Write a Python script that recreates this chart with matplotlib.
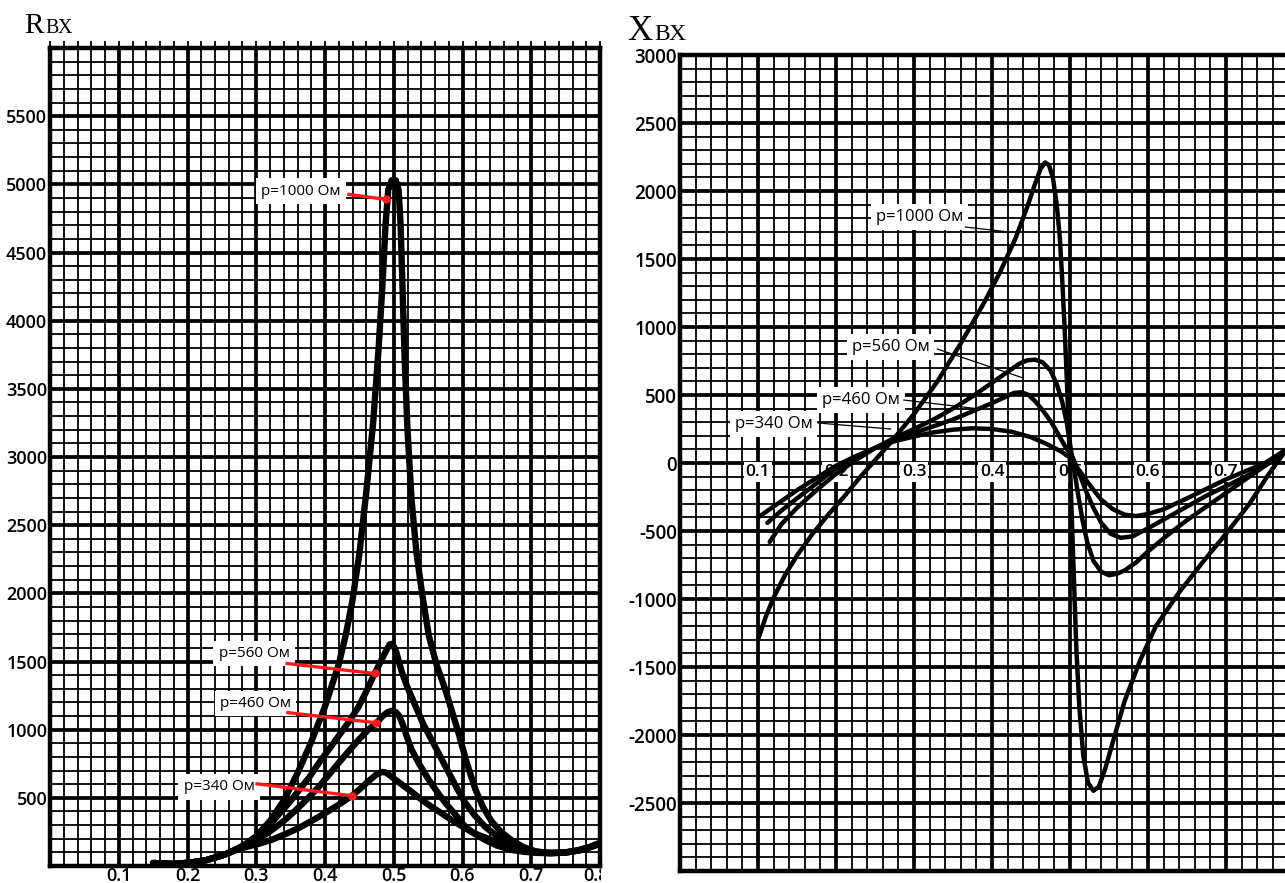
import matplotlib
matplotlib.use('Agg')
import matplotlib.pyplot as plt
from matplotlib.ticker import MultipleLocator
from matplotlib.transforms import Bbox, TransformedBbox

# ---------------- data: left panel (R_вх) ----------------
rx_1000 = [0.150, 0.178, 0.205, 0.228, 0.255, 0.275, 0.290, 0.300, 0.320, 0.340, 0.360, 0.380,
           0.400, 0.420, 0.430, 0.440, 0.450, 0.460, 0.470, 0.478, 0.484, 0.488, 0.492, 0.497,
           0.503, 0.507, 0.510, 0.513, 0.516, 0.520, 0.526, 0.533, 0.541, 0.551, 0.562, 0.575,
           0.594, 0.606, 0.619, 0.630, 0.642, 0.656, 0.671, 0.688, 0.706, 0.725, 0.745, 0.765,
           0.785, 0.810]
rv_1000 = [22, 15, 25, 44, 85, 132, 180, 220, 330, 480, 680, 910,
           1170, 1480, 1690, 1950, 2290, 2740, 3250, 3800, 4300, 4700, 4960, 5030,
           5030, 4960, 4700, 4200, 3700, 3200, 2680, 2300, 2007, 1690, 1480, 1294,
           980, 760, 559, 430, 330, 250, 191, 140, 108, 95, 97, 112,
           140, 190]

rx_560 = [0.150, 0.178, 0.205, 0.228, 0.255, 0.275, 0.290, 0.304, 0.320, 0.333, 0.348, 0.362,
          0.377, 0.391, 0.405, 0.420, 0.435, 0.449, 0.461, 0.472, 0.481, 0.489, 0.494, 0.498,
          0.503, 0.508, 0.512, 0.520, 0.532, 0.543, 0.555, 0.568, 0.580, 0.592, 0.604, 0.618,
          0.633, 0.650, 0.671, 0.690, 0.710, 0.730, 0.750, 0.770, 0.790, 0.810]
rv_560 = [22, 15, 25, 44, 85, 132, 175, 230, 305, 380, 465, 555,
          650, 755, 850, 955, 1060, 1170, 1290, 1410, 1500, 1580, 1625, 1630,
          1580, 1490, 1419, 1310, 1169, 1040, 926, 800, 684, 570, 463, 370,
          287, 220, 163, 125, 103, 96, 99, 115, 145, 190]

rx_460 = [0.150, 0.178, 0.205, 0.228, 0.255, 0.275, 0.294, 0.310, 0.323, 0.340, 0.358, 0.375,
          0.391, 0.405, 0.420, 0.435, 0.449, 0.462, 0.475, 0.484, 0.491, 0.497, 0.503, 0.508,
          0.513, 0.519, 0.526, 0.538, 0.551, 0.563, 0.575, 0.590, 0.604, 0.618, 0.633, 0.650,
          0.671, 0.690, 0.710, 0.730, 0.750, 0.770, 0.790, 0.810]
rv_460 = [22, 15, 25, 44, 85, 132, 176, 220, 265, 330, 412, 495,
          581, 665, 757, 845, 926, 995, 1051, 1100, 1128, 1138, 1130, 1100,
          1040, 950, 853, 740, 632, 545, 463, 375, 287, 235, 191, 150,
          118, 104, 96, 95, 99, 115, 145, 190]

rx_340 = [0.150, 0.178, 0.205, 0.228, 0.255, 0.275, 0.290, 0.307, 0.323, 0.342, 0.362, 0.381,
          0.401, 0.420, 0.439, 0.452, 0.465, 0.475, 0.483, 0.489, 0.497, 0.511, 0.526, 0.540,
          0.555, 0.570, 0.584, 0.599, 0.613, 0.628, 0.642, 0.656, 0.671, 0.688, 0.706, 0.728,
          0.750, 0.770, 0.790, 0.810]
rv_340 = [22, 15, 25, 44, 85, 125, 145, 168, 193, 233, 279, 332,
          390, 450, 515, 570, 630, 672, 690, 685, 654, 600, 544, 488,
          434, 385, 338, 292, 250, 218, 191, 160, 132, 112, 99, 94,
          99, 115, 145, 190]

# ---------------- data: right panel (X_вх) ----------------
xx_1000 = [0.100, 0.110, 0.120, 0.135, 0.150, 0.170, 0.190, 0.210, 0.230, 0.250, 0.270, 0.300,
           0.330, 0.360, 0.390, 0.410, 0.430, 0.445, 0.455, 0.462, 0.468, 0.473, 0.478, 0.483,
           0.487, 0.490, 0.493, 0.496, 0.499, 0.502, 0.505, 0.508, 0.512, 0.517, 0.523, 0.530,
           0.537, 0.545, 0.555, 0.570, 0.590, 0.610, 0.640, 0.670, 0.700, 0.730, 0.755, 0.780]
xv_1000 = [-1300, -1130, -990, -820, -680, -520, -380, -250, -110, 20, 150, 360,
           600, 880, 1180, 1400, 1650, 1880, 2050, 2160, 2210, 2190, 2100, 1900,
           1650, 1350, 1000, 600, 150, -350, -850, -1350, -1800, -2150, -2350, -2410,
           -2380, -2250, -2050, -1750, -1450, -1200, -950, -730, -520, -300, -80, 120]

xx_560 = [0.115, 0.130, 0.150, 0.175, 0.200, 0.225, 0.250, 0.275, 0.300, 0.325, 0.350, 0.375,
          0.400, 0.420, 0.435, 0.445, 0.455, 0.465, 0.475, 0.483, 0.490, 0.496, 0.500, 0.505,
          0.510, 0.516, 0.522, 0.530, 0.540, 0.550, 0.560, 0.570, 0.585, 0.600, 0.625, 0.650,
          0.675, 0.700, 0.725, 0.750, 0.780]
xv_560 = [-580, -450, -330, -200, -80, 20, 110, 185, 250, 320, 400, 490,
          590, 670, 730, 755, 760, 740, 680, 580, 450, 290, 140, -40,
          -220, -420, -580, -720, -800, -825, -815, -790, -730, -650, -530, -420,
          -320, -220, -120, -20, 110]

xx_460 = [0.112, 0.130, 0.150, 0.175, 0.200, 0.225, 0.250, 0.275, 0.300, 0.325, 0.350, 0.375,
          0.400, 0.415, 0.428, 0.438, 0.447, 0.456, 0.466, 0.476, 0.486, 0.495, 0.502, 0.510,
          0.520, 0.530, 0.540, 0.552, 0.565, 0.580, 0.600, 0.625, 0.650, 0.675, 0.700, 0.725,
          0.750, 0.780]
xv_460 = [-440, -350, -260, -150, -40, 40, 110, 170, 220, 270, 320, 380,
          440, 480, 515, 520, 500, 450, 380, 300, 200, 110, 60, -50,
          -200, -330, -440, -520, -550, -540, -480, -400, -320, -240, -170, -100,
          -20, 110]

xx_340 = [0.100, 0.125, 0.150, 0.175, 0.200, 0.225, 0.250, 0.275, 0.300, 0.325, 0.350, 0.375,
          0.400, 0.425, 0.450, 0.470, 0.490, 0.500, 0.510, 0.525, 0.540, 0.555, 0.570, 0.585,
          0.600, 0.620, 0.650, 0.675, 0.700, 0.725, 0.750, 0.780]
xv_340 = [-400, -300, -200, -110, -20, 50, 110, 160, 195, 225, 245, 255,
          250, 230, 190, 140, 80, 40, -40, -160, -270, -340, -380, -390,
          -375, -340, -260, -190, -120, -60, 0, 110]

# ticks / labels
l_xticks = [0.1, 0.2, 0.3, 0.4, 0.5, 0.6, 0.7]
l_xlabels = ['0.1', '0.2', '0.3', '0.4', '0.5', '0.6', '0.7']
l_yticks = [500, 1000, 1500, 2000, 2500, 3000, 3500, 4000, 4500, 5000, 5500]
r_xticks = [0.1, 0.2, 0.3, 0.4, 0.5, 0.6, 0.7]
r_xlabels = ['0.1', '0.2', '0.3', '0.4', '0.5', '0.6', '0.7']
r_yticks = [3000, 2500, 2000, 1500, 1000, 500, 0, -500, -1000, -1500, -2000, -2500]
labels = ['p=1000 Ом', 'p=560 Ом', 'p=460 Ом', 'p=340 Ом']

W, H = 1285, 883
fig = plt.figure(figsize=(W / 100, H / 100), dpi=100)
FONT = 'Open Sans'
TW = 'semibold'


def px_axes(l, t, r, b):
    return fig.add_axes([l / W, 1 - b / H, (r - l) / W, (b - t) / H])


axL = px_axes(50, 48, 600, 866)
axR = px_axes(680, 55, 1285, 871)
axL.set_xlim(0, 0.8)
axL.set_ylim(0, 6000)
axR.set_xlim(0, 0.7756)
axR.set_ylim(-3000, 3000)

for ax in (axL, axR):
    ax.xaxis.set_major_locator(MultipleLocator(0.1))
    ax.xaxis.set_minor_locator(MultipleLocator(0.02))
    ax.yaxis.set_major_locator(MultipleLocator(500))
    ax.yaxis.set_minor_locator(MultipleLocator(100))
    ax.grid(which='minor', color='black', lw=1.3)
    ax.grid(which='major', color='black', lw=2.7)
    ax.set_axisbelow(True)
    ax.tick_params(which='both', length=0, labelbottom=False, labelleft=False)
    for s in ax.spines.values():
        s.set_linewidth(3.2)
        s.set_color('black')
axR.spines['right'].set_visible(False)
axL.tick_params(which='both', top=True, bottom=False, left=False, right=False,
                direction='out', length=5, width=1.3)

# left tick labels
for v in l_yticks:
    axL.text(-0.004, v - 15, str(v), ha='right', va='center', fontsize=13, family=FONT,
             weight=TW, clip_on=False)
for x, s in zip(l_xticks, l_xlabels):
    axL.text(x, -110, s, ha='center', va='baseline', fontsize=13, family=FONT,
             weight=TW, clip_on=False)
t08 = fig.text(596 / W, 1 - 881 / H, '0.8', ha='center', va='baseline', fontsize=13,
               family=FONT, weight=TW)
t08.set_clip_on(True)
t08.set_clip_box(TransformedBbox(Bbox([[0, 0], [601 / W, 1]]), fig.transFigure))

# right tick labels
for v in r_yticks:
    axR.text(-0.004, v - 22, str(v), ha='right', va='center', fontsize=13.5, family=FONT,
             weight=TW, clip_on=False)
for x, s in zip(r_xticks, r_xlabels):
    axR.text(x, -66, s, ha='center', va='center', fontsize=12.5, family=FONT, weight=TW,
             zorder=2.8, bbox=dict(boxstyle='square,pad=0.12', fc='white', ec='none'))

# axis titles
fig.text(24 / W, 1 - 33 / H, 'R', fontsize=21, family='Liberation Serif', va='baseline')
fig.text(45 / W, 1 - 33 / H, 'ВХ', fontsize=14.5, family='Liberation Serif', va='baseline')
fig.text(627 / W, 1 - 40 / H, 'X', fontsize=25, family='Liberation Serif', va='baseline')
fig.text(654 / W, 1 - 40 / H, 'ВХ', fontsize=17, family='Liberation Serif', va='baseline')

# curves
for xs, vs in ((rx_1000, rv_1000), (rx_560, rv_560), (rx_460, rv_460), (rx_340, rv_340)):
    axL.plot(xs, vs, color='black', lw=4.6, solid_capstyle='round', solid_joinstyle='round',
             zorder=4)
for xs, vs in ((xx_1000, xv_1000), (xx_560, xv_560), (xx_460, xv_460), (xx_340, xv_340)):
    axR.plot(xs, vs, color='black', lw=3.2, solid_capstyle='round', solid_joinstyle='round',
             zorder=4)

# left annotations (red pointers)
l_text_pos = [(0.365, 4949), (0.297, 1559), (0.299, 1191), (0.246, 581)]
l_lines = [((0.435, 4926), (0.488, 4890)), ((0.345, 1485), (0.472, 1412)),
           ((0.346, 1125), (0.474, 1051)), ((0.301, 603), (0.439, 515))]
for lab, (tx, ty), ((x0, y0), (x1, y1)) in zip(labels, l_text_pos, l_lines):
    axL.text(tx, ty, lab, ha='center', va='center', fontsize=11, family=FONT, zorder=5,
             bbox=dict(boxstyle='square,pad=0.35', fc='white', ec='none'))
    axL.plot([x0, x1], [y0, y1], color='#ff1a1a', lw=2.4, zorder=6)
    axL.plot([x1], [y1], 'o', color='#ff1a1a', ms=5, zorder=6)

# right annotations (thin black leaders)
r_text_pos = [(0.307, 1809), (0.270, 853), (0.232, 463), (0.120, 287)]
r_lines = [((0.366, 1735), (0.421, 1699)), ((0.330, 838), (0.440, 625)),
           ((0.287, 463), (0.380, 400)), ((0.177, 294), (0.270, 250))]
for lab, (tx, ty), ((x0, y0), (x1, y1)) in zip(labels, r_text_pos, r_lines):
    axR.text(tx, ty, lab, ha='center', va='center', fontsize=12, family=FONT, zorder=5,
             bbox=dict(boxstyle='square,pad=0.3', fc='white', ec='none'))
    axR.plot([x0, x1], [y0, y1], color='black', lw=0.9, zorder=5)

fig.savefig('out.png', dpi=100)
